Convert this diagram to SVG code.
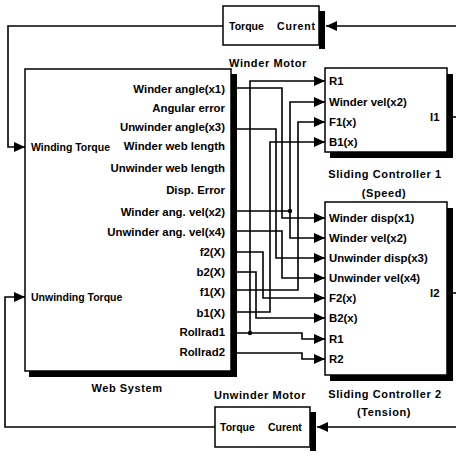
<svg xmlns="http://www.w3.org/2000/svg" width="456" height="456" viewBox="0 0 456 456">
<style>
.box{fill:#fff;stroke:#000;stroke-width:1.5}
.sh{fill:#000}
.w{fill:none;stroke:#000;stroke-width:1.6}
.a{marker-end:url(#ah)}
text{font-family:"Liberation Sans",Arial,sans-serif;font-size:11.4px;font-weight:bold;fill:#000}
.e{text-anchor:end}
.m{font-size:10.5px}
.t{font-size:11px;letter-spacing:0.6px;text-anchor:middle}
</style>
<defs>
<marker id="ah" markerUnits="userSpaceOnUse" markerWidth="11" markerHeight="10" refX="11" refY="5" orient="auto">
<path d="M0,0 L11,5 L0,10 z" fill="#000"/>
</marker>
</defs>
<rect width="456" height="456" fill="#fff"/>

<g id="winder-motor">
<rect class="sh" x="319" y="11" width="6" height="38"/>
<rect class="box" x="223" y="6" width="96" height="39"/>
<text class="m" x="229" y="30">Torque</text>
<text class="m" x="277" y="30" textLength="38">Curent</text>
<text class="t" x="268" y="67">Winder Motor</text>
</g>

<g id="unwinder-motor">
<rect class="sh" x="310" y="412" width="6" height="39"/>
<rect class="box" x="215" y="407" width="95" height="40"/>
<text class="m" x="220" y="431">Torque</text>
<text class="m" x="268" y="431">Curent</text>
<text class="t" x="260" y="399">Unwinder Motor</text>
</g>

<g id="web-system">
<rect class="sh" x="231" y="74" width="6" height="303"/>
<rect class="sh" x="29" y="371" width="208" height="6"/>
<rect class="box" x="25" y="69" width="206" height="302"/>
<text class="e" x="225" y="93">Winder angle(x1)</text>
<text class="e" x="225" y="112">Angular error</text>
<text class="e" x="225" y="131">Unwinder angle(x3)</text>
<text class="e" x="225" y="150">Winder web length</text>
<text class="e" x="225" y="172">Unwinder web length</text>
<text class="e" x="225" y="194">Disp. Error</text>
<text class="e" x="225" y="216">Winder ang. vel(x2)</text>
<text class="e" x="225" y="236">Unwinder ang. vel(x4)</text>
<text class="e" x="225" y="256">f2(X)</text>
<text class="e" x="225" y="276">b2(X)</text>
<text class="e" x="225" y="296">f1(X)</text>
<text class="e" x="225" y="317">b1(X)</text>
<text class="e" x="225" y="336">Rollrad1</text>
<text class="e" x="225" y="356">Rollrad2</text>
<text class="m" x="31" y="151">Winding Torque</text>
<text class="m" x="31" y="301">Unwinding Torque</text>
<text class="t" x="127" y="392">Web System</text>
</g>

<g id="sliding-controller-1">
<rect class="sh" x="447" y="74" width="6" height="84"/>
<rect class="sh" x="330" y="152" width="123" height="6"/>
<rect class="box" x="325" y="68" width="122" height="84"/>
<text x="329" y="85">R1</text>
<text x="329" y="106">Winder vel(x2)</text>
<text x="329" y="126">F1(x)</text>
<text x="329" y="146">B1(x)</text>
<text x="430" y="121">I1</text>
<text class="t" x="385" y="178">Sliding Controller 1</text>
<text class="t" x="384" y="197">(Speed)</text>
</g>

<g id="sliding-controller-2">
<rect class="sh" x="447" y="208" width="6" height="173"/>
<rect class="sh" x="330" y="375" width="123" height="6"/>
<rect class="box" x="325" y="202" width="122" height="173"/>
<text x="329" y="222">Winder disp(x1)</text>
<text x="329" y="242">Winder vel(x2)</text>
<text x="329" y="262">Unwinder disp(x3)</text>
<text x="329" y="282">Unwinder vel(x4)</text>
<text x="329" y="302">F2(x)</text>
<text x="329" y="322">B2(x)</text>
<text x="329" y="343">R1</text>
<text x="329" y="363">R2</text>
<text x="430" y="297">I2</text>
<text class="t" x="385" y="398">Sliding Controller 2</text>
<text class="t" x="384" y="416">(Tension)</text>
</g>

<g id="connectors">
<path class="w a" d="M456,26 H326"/>
<path class="w a" d="M223,26 H8 V147 H25"/>
<path class="w a" d="M456,427 H317"/>
<path class="w a" d="M215,427 H5 V297 H25"/>
<path class="w" d="M453,117 H456"/>
<path class="w" d="M453,293 H456"/>
<path class="w a" d="M237,88 H282 V218 H325"/>
<path class="w a" d="M237,129 H276 V258 H325"/>
<path class="w a" d="M237,211 H290 V102 H325"/>
<path class="w a" d="M290,211 V238 H325"/>
<path class="w a" d="M237,231 H282 V278 H325"/>
<path class="w a" d="M237,252 H263 V298 H325"/>
<path class="w a" d="M237,272 H256 V318 H325"/>
<path class="w a" d="M237,290 H298 V122 H325"/>
<path class="w a" d="M237,312 H270 V142 H325"/>
<path class="w a" d="M237,333 H250 V81 H325"/>
<path class="w a" d="M250,333 H302 V339 H325"/>
<path class="w a" d="M237,353 H302 V359 H325"/>
<circle cx="290" cy="211" r="2.2"/>
<circle cx="250" cy="333" r="2.2"/>
</g>
</svg>
